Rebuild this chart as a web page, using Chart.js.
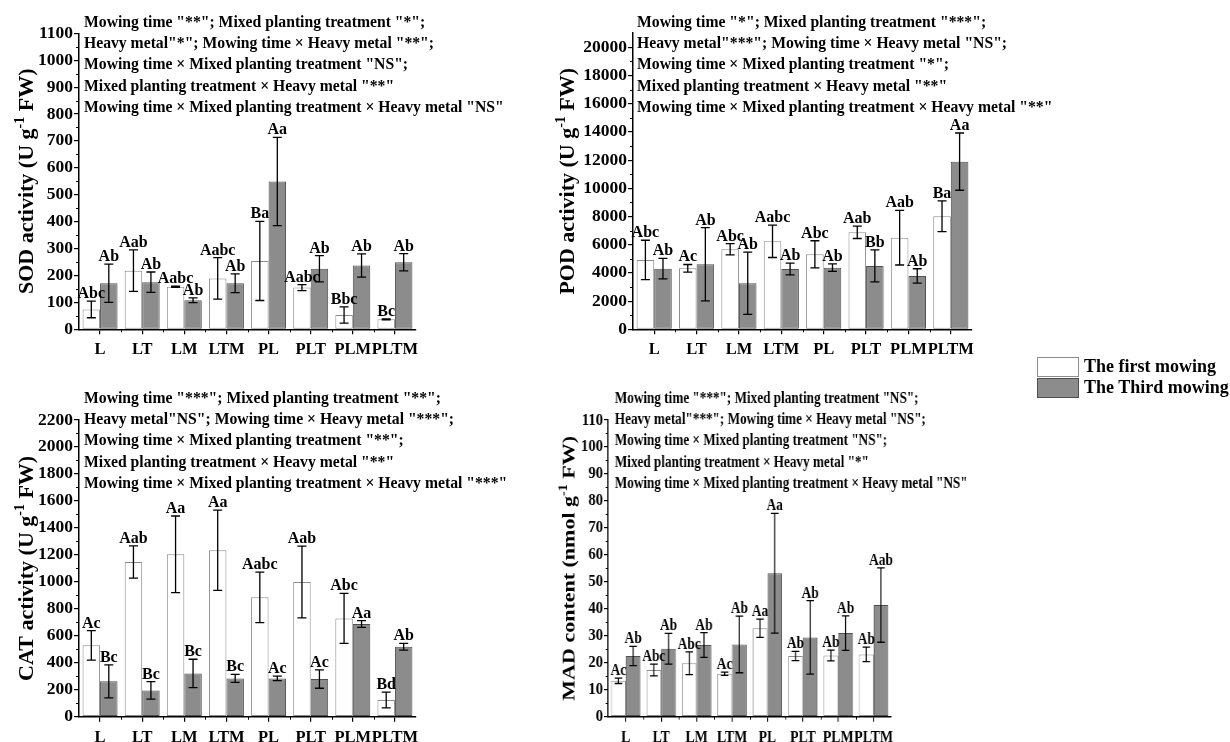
<!DOCTYPE html>
<html>
<head>
<meta charset="utf-8">
<title>Antioxidant enzymes and MAD</title>
<script src="https://cdn.jsdelivr.net/npm/chart.js@4.4.0/dist/chart.umd.min.js"></script>
<style>
  body { margin: 0; background: #fff; }
  #page { position: relative; width: 1230px; height: 742px; overflow: hidden; background: #fff; }
  canvas { position: absolute; }
  #legend { position: absolute; left: 1037px; top: 356px; font: bold 18px "Liberation Serif", "Times New Roman", serif; color: #000; }
  #legend .row { display: flex; align-items: center; height: 21px; }
  #legend .box { display: inline-block; width: 42px; height: 20px; margin-right: 5px; box-sizing: border-box; }
</style>
</head>
<body>
<div id="page">
  <canvas id="sodChart" width="560" height="370" style="left:0;top:0"></canvas>
  <canvas id="podChart" width="600" height="370" style="left:520px;top:0"></canvas>
  <canvas id="catChart" width="560" height="372" style="left:0;top:370px"></canvas>
  <!-- the MAD panel is narrower in the source figure: drawn wide, squeezed by CSS width -->
  <canvas id="madChart" width="583" height="372" style="left:540px;top:370px;width:490px;height:372px"></canvas>
  <div id="legend"></div>
</div>
<script>
// categories and series
const groups = ['L', 'LT', 'LM', 'LTM', 'PL', 'PLT', 'PLM', 'PLTM'];
const seriesNames = ['The first mowing', 'The Third mowing'];

// SOD activity (U g-1 FW)
const sodTicks = [0, 100, 200, 300, 400, 500, 600, 700, 800, 900, 1000, 1100];
const sodFirst = [74, 218, 158, 189, 254, 155, 53, 37];
const sodFirstErr = [31, 77, 2, 77, 147, 11, 30, 2];
const sodThird = [171, 175, 108, 171, 549, 225, 237, 249];
const sodThirdErr = [71, 38, 9, 35, 164, 49, 43, 32];
const sodFirstLetters = ['Abc', 'Aab', 'Aabc', 'Aabc', 'Ba', 'Aabc', 'Bbc', 'Bc'];
const sodThirdLetters = ['Ab', 'Ab', 'Ab', 'Ab', 'Aa', 'Ab', 'Ab', 'Ab'];
const sodNotes = [
  'Mowing time "**"; Mixed planting treatment "*";',
  'Heavy metal"*"; Mowing time \u00d7 Heavy metal "**";',
  'Mowing time \u00d7 Mixed planting treatment "NS";',
  'Mixed planting treatment \u00d7 Heavy metal "**"',
  'Mowing time \u00d7 Mixed planting treatment \u00d7 Heavy metal "NS"'
];

// POD activity (U g-1 FW)
const podTicks = [0, 2000, 4000, 6000, 8000, 10000, 12000, 14000, 16000, 18000, 20000];
const podFirst = [4917, 4326, 5674, 6241, 5319, 6879, 6501, 8014];
const podFirstErr = [1400, 270, 400, 1150, 960, 440, 1940, 1090];
const podThird = [4303, 4610, 3262, 4279, 4374, 4492, 3783, 11891];
const podThirdErr = [730, 2600, 2210, 420, 260, 1135, 510, 2030];
const podFirstLetters = ['Abc', 'Ac', 'Abc', 'Aabc', 'Abc', 'Aab', 'Aab', 'Ba'];
const podThirdLetters = ['Ab', 'Ab', 'Ab', 'Ab', 'Ab', 'Bb', 'Ab', 'Aa'];
const podNotes = [
  'Mowing time "*"; Mixed planting treatment "***";',
  'Heavy metal"***"; Mowing time \u00d7 Heavy metal "NS";',
  'Mowing time \u00d7 Mixed planting treatment "*";',
  'Mixed planting treatment \u00d7 Heavy metal "**"',
  'Mowing time \u00d7 Mixed planting treatment \u00d7 Heavy metal "**"'
];

// CAT activity (U g-1 FW)
const catTicks = [0, 200, 400, 600, 800, 1000, 1200, 1400, 1600, 1800, 2000, 2200];
const catFirst = [529, 1147, 1204, 1234, 885, 999, 729, 124];
const catFirstErr = [109, 120, 284, 298, 187, 266, 186, 58];
const catThird = [262, 195, 321, 284, 284, 279, 687, 519];
const catThirdErr = [123, 65, 105, 30, 17, 68, 25, 25];
const catFirstLetters = ['Ac', 'Aab', 'Aa', 'Aa', 'Aabc', 'Aab', 'Abc', 'Bd'];
const catThirdLetters = ['Bc', 'Bc', 'Bc', 'Bc', 'Ac', 'Ac', 'Aa', 'Ab'];
const catNotes = [
  'Mowing time "***"; Mixed planting treatment "**";',
  'Heavy metal"NS"; Mowing time \u00d7 Heavy metal "***";',
  'Mowing time \u00d7 Mixed planting treatment "**";',
  'Mixed planting treatment \u00d7 Heavy metal "**"',
  'Mowing time \u00d7 Mixed planting treatment \u00d7 Heavy metal "***"'
];

// MAD content (nmol g-1 FW)
const madTicks = [0, 10, 20, 30, 40, 50, 60, 70, 80, 90, 100, 110];
const madFirst = [13.3, 17.3, 19.8, 15.9, 32.8, 22.5, 22.7, 23.1];
const madFirstErr = [1.0, 2.2, 4.2, 0.6, 3.4, 1.7, 2.0, 2.7];
const madThird = [22.5, 25.2, 26.6, 26.8, 53.2, 29.4, 31.0, 41.4];
const madThirdErr = [3.6, 5.7, 4.6, 10.5, 22.2, 13.6, 6.4, 13.8];
const madFirstLetters = ['Ac', 'Abc', 'Abc', 'Ac', 'Aa', 'Ab', 'Ab', 'Ab'];
const madThirdLetters = ['Ab', 'Ab', 'Ab', 'Ab', 'Aa', 'Ab', 'Ab', 'Aab'];
const madNotes = [
  'Mowing time "***"; Mixed planting treatment "NS";',
  'Heavy metal"***"; Mowing time \u00d7 Heavy metal "NS";',
  'Mowing time \u00d7 Mixed planting treatment "NS";',
  'Mixed planting treatment \u00d7 Heavy metal "*"',
  'Mowing time \u00d7 Mixed planting treatment \u00d7 Heavy metal "NS"'
];

const FONT = '"Liberation Serif", "Times New Roman", serif';
const WHITE_BORDER = '#8c8c8c';
const GREY_FILL = '#8c8c8c';
const GREY_BORDER = '#505050';

Chart.defaults.font.family = FONT;
Chart.defaults.color = '#000';

// draws error bars, letters, notes, y title and minor ticks
function panelPlugin(p) {
  return {
    id: 'panelDeco',
    afterDatasetsDraw(chart) {
      const ctx = chart.ctx;
      const y = chart.scales.y;
      ctx.save();
      ctx.strokeStyle = '#000';
      ctx.lineWidth = 1.3;
      chart.data.datasets.forEach((ds, di) => {
        chart.getDatasetMeta(di).data.forEach((bar, i) => {
          const v = ds.data[i], e = ds.err[i];
          const yt = y.getPixelForValue(v + e);
          const yb = y.getPixelForValue(Math.max(0, v - e));
          ctx.beginPath();
          ctx.moveTo(bar.x, yt); ctx.lineTo(bar.x, yb);
          ctx.moveTo(bar.x - 4.5, yt); ctx.lineTo(bar.x + 4.5, yt);
          ctx.moveTo(bar.x - 4.5, yb); ctx.lineTo(bar.x + 4.5, yb);
          ctx.stroke();
          ctx.fillStyle = '#000';
          ctx.font = 'bold 16px ' + FONT;
          ctx.textAlign = 'center';
          ctx.textBaseline = 'alphabetic';
          ctx.fillText(ds.letters[i], bar.x, yt - 3);
        });
      });
      ctx.restore();
    },
    afterDraw(chart) {
      const ctx = chart.ctx;
      const area = chart.chartArea;
      const y = chart.scales.y, x = chart.scales.x;
      ctx.save();
      ctx.fillStyle = '#000';
      ctx.strokeStyle = '#000';
      // notes above plot
      ctx.font = 'bold 15.7px ' + FONT;
      ctx.textAlign = 'left';
      ctx.textBaseline = 'alphabetic';
      p.notes.forEach((line, i) => ctx.fillText(line, p.noteX, p.noteY + i * 21.2));
      // minor ticks
      ctx.lineWidth = 1;
      ctx.beginPath();
      const step = p.ticks[1] - p.ticks[0];
      p.ticks.forEach(t => {
        const py = Math.round(y.getPixelForValue(t + step / 2)) + 0.5;
        if (t + step / 2 < y.max) { ctx.moveTo(area.left - 3, py); ctx.lineTo(area.left, py); }
      });
      for (let i = 0; i < groups.length - 1; i++) {
        const px = Math.round((x.getPixelForTick(i) + x.getPixelForTick(i + 1)) / 2) + 0.5;
        ctx.moveTo(px, area.bottom); ctx.lineTo(px, area.bottom + 3);
      }
      ctx.stroke();
      // y title with superscript
      ctx.translate(p.titleX, (area.top + area.bottom) / 2);
      ctx.rotate(-Math.PI / 2);
      const big = 'bold 22px ' + FONT, small = 'bold 14px ' + FONT;
      ctx.font = big;
      const w0 = ctx.measureText(p.title[0]).width, w2 = ctx.measureText(p.title[2]).width;
      ctx.font = small;
      const w1 = ctx.measureText(p.title[1]).width;
      let tx = -(w0 + w1 + w2) / 2;
      ctx.font = big; ctx.fillText(p.title[0], tx, 0); tx += w0;
      ctx.font = small; ctx.fillText(p.title[1], tx, -9); tx += w1;
      ctx.font = big; ctx.fillText(p.title[2], tx, 0);
      ctx.restore();
    }
  };
}

function makePanel(id, p) {
  const canvas = document.getElementById(id);
  return new Chart(canvas, {
    type: 'bar',
    data: {
      labels: groups,
      datasets: [
        { label: seriesNames[0], data: p.first, err: p.firstErr, letters: p.firstLetters,
          backgroundColor: '#fff', borderColor: WHITE_BORDER, borderWidth: 1, borderSkipped: false },
        { label: seriesNames[1], data: p.third, err: p.thirdErr, letters: p.thirdLetters,
          backgroundColor: GREY_FILL, borderColor: GREY_BORDER, borderWidth: 1, borderSkipped: false }
      ]
    },
    options: {
      responsive: false,
      animation: false,
      events: [],
      layout: { padding: { left: 0, top: p.area.top, right: canvas.width - p.area.right, bottom: 0 } },
      datasets: { bar: { barPercentage: 1, categoryPercentage: 0.83 } },
      plugins: { legend: { display: false }, tooltip: { enabled: false } },
      scales: {
        x: {
          offset: true,
          grid: { offset: false, drawOnChartArea: false, drawTicks: true, tickLength: 5, color: '#000', lineWidth: 1.2 },
          border: { display: true, color: '#000', width: 1.5 },
          ticks: { font: { size: 16.5, weight: 'bold' }, color: '#000', padding: 6, maxRotation: 0, autoSkip: false },
          afterFit(s) { s.height = canvas.height - p.area.bottom; }
        },
        y: {
          min: 0,
          max: p.max,
          grid: { drawOnChartArea: false, drawTicks: true, tickLength: 5, color: '#000', lineWidth: 1.2 },
          border: { display: true, color: '#000', width: 1.5 },
          ticks: {
            autoSkip: false,
            font: { size: 17.5, weight: 'bold' }, color: '#000', padding: 1,
            callback: v => String(v)
          },
          afterBuildTicks(s) { s.ticks = p.ticks.map(v => ({ value: v })); },
          afterFit(s) { s.width = p.area.left; }
        }
      }
    },
    plugins: [panelPlugin(p)]
  });
}

makePanel('sodChart', {
  first: sodFirst, firstErr: sodFirstErr, firstLetters: sodFirstLetters,
  third: sodThird, thirdErr: sodThirdErr, thirdLetters: sodThirdLetters,
  notes: sodNotes, ticks: sodTicks, max: 1100,
  title: ['SOD activity (U g', '-1', ' FW)'],
  area: { left: 79, top: 33.3, right: 416, bottom: 329.3 },
  noteX: 84, noteY: 27, titleX: 33
});

makePanel('podChart', {
  first: podFirst, firstErr: podFirstErr, firstLetters: podFirstLetters,
  third: podThird, thirdErr: podThirdErr, thirdLetters: podThirdLetters,
  notes: podNotes, ticks: podTicks, max: 21000,
  title: ['POD activity (U g', '-1', ' FW)'],
  area: { left: 113, top: 33.2, right: 452, bottom: 329.3 },
  noteX: 117, noteY: 27, titleX: 54
});

makePanel('catChart', {
  first: catFirst, firstErr: catFirstErr, firstLetters: catFirstLetters,
  third: catThird, thirdErr: catThirdErr, thirdLetters: catThirdLetters,
  notes: catNotes, ticks: catTicks, max: 2200,
  title: ['CAT activity (U g', '-1', ' FW)'],
  area: { left: 79, top: 50, right: 416, bottom: 346.7 },
  noteX: 84, noteY: 33, titleX: 33
});

makePanel('madChart', {
  first: madFirst, firstErr: madFirstErr, firstLetters: madFirstLetters,
  third: madThird, thirdErr: madThirdErr, thirdLetters: madThirdLetters,
  notes: madNotes, ticks: madTicks, max: 110,
  title: ['MAD content (nmol g', '-1', ' FW)'],
  area: { left: 81, top: 50, right: 418, bottom: 346.7 },
  noteX: 89, noteY: 33, titleX: 41
});

// legend
const legend = document.getElementById('legend');
const legendStyles = [
  { bg: '#fff', border: WHITE_BORDER },
  { bg: GREY_FILL, border: GREY_BORDER }
];
seriesNames.forEach((name, i) => {
  const row = document.createElement('div');
  row.className = 'row';
  const box = document.createElement('span');
  box.className = 'box';
  box.style.background = legendStyles[i].bg;
  box.style.border = '1px solid ' + legendStyles[i].border;
  const label = document.createElement('span');
  label.textContent = name;
  row.appendChild(box);
  row.appendChild(label);
  legend.appendChild(row);
});
</script>
</body>
</html>
